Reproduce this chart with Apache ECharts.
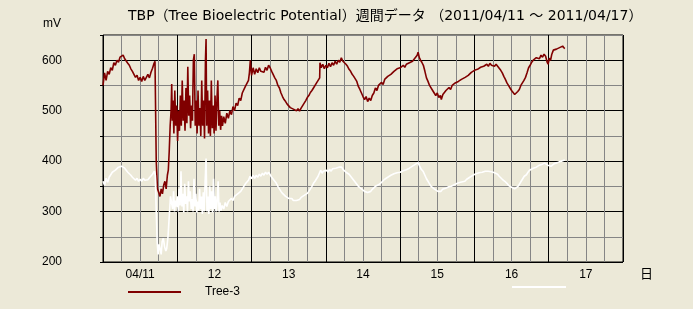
<!DOCTYPE html>
<html>
<head>
<meta charset="utf-8">
<script src="https://cdn.jsdelivr.net/npm/echarts@6/dist/echarts.min.js"></script>
<style>html,body{margin:0;padding:0;background:#ECE9D8;}#c{width:693px;height:309px;}</style>
</head>
<body>
<div id="c"></div>
<script>
// hours since 2011/04/11 00:00, mV
const tree3 = [
[0,550],[0.5,575],[1,560],[1.5,578],[2,572],[2.5,585],[3,580],[3.5,595],[4,590],[4.5,600],[5,596],[5.5,606],[6,604],[6.5,610],[7,603],[7.5,600],[8,594],[8.5,590],[9,583],[9.5,578],[10,572],[10.5,566],[11,570],[11.5,560],[12,566],[12.5,558],[13,568],[13.5,560],[14,566],[14.5,572],[15,565],[15.5,576],[16,584],[16.5,594],[16.8,598],[17.1,596],
[17.2,400],[17.6,345],[18,338],[18.4,330],[18.8,345],[19.2,335],[19.6,352],[20,360],[20.4,345],[20.8,372],[21.1,382],[21.4,420],[21.7,470],[22,500],[22.2,553],[22.4,480],
[22.6,520],[22.9,455],[23.2,540],[23.5,470],[23.8,510],[24.1,440],[24.4,500],[24.7,460],[25,530],[25.3,470],[25.6,560],[25.9,480],[26.2,520],[26.5,460],[26.8,545],[27.1,475],[27.4,587],[27.7,490],[28,530],[28.3,465],[28.6,510],[28.9,480],[29.2,600],[29.5,612],[29.8,470],[30.1,520],[30.4,455],[30.7,540],[31,470],[31.3,505],[31.6,450],[31.9,560],[32.2,470],[32.5,520],[32.8,445],[33.1,600],[33.3,642],[33.5,470],[33.8,540],[34.1,455],[34.4,520],[34.7,450],[35,560],[35.3,465],[35.6,510],[35.9,455],[36.2,530],[36.5,460],[36.8,520],[37.1,560],[37.4,470],[37.7,500],[38,462],[38.3,490],[38.6,470],
[39,488],[39.5,475],[40,495],[40.5,485],[41,500],[41.5,492],[42,508],[42.5,500],[43,515],[43.5,510],[44,525],[44.5,520],[45,535],[45.5,532],[46,548],[46.5,545],[47,560],[47.3,575],[47.6,600],[48,570],[48.5,585],[49,572],[49.5,583],[50,575],[50.5,585],[51,578],[51.5,580],[52,576],[52.5,586],[53,580],[53.5,590],[54,585],[54.5,578],[55,575],[55.5,565],[56,560],[56.5,550],[57,545],[57.5,535],[58,528],[58.5,522],[59,518],[59.5,513],[60,512],[60.5,506],[61,508],[61.5,503],[62,506],[62.5,500],[63,504],[63.5,499],[64,505],[64.5,508],[65,515],[65.5,520],[66,526],[66.5,530],[67,536],[67.5,540],[68,545],[68.5,548],[69,555],[69.5,560],[70,565],
[70.1,595],[70.5,585],[71,592],[71.5,583],[72,590],[72.5,585],[73,594],[73.5,587],[74,595],[74.5,590],[75,598],[75.5,592],[76,600],[76.5,596],[77,605],[77.5,598],[78,600],[78.5,592],[79,588],[79.5,582],[80,578],[80.5,572],[81,568],[81.5,563],[82,558],[82.5,548],[83,542],[83.5,535],[84,528],[84.5,522],[85,528],[85.5,518],[86,525],[86.5,520],[87,530],[87.5,535],[88,545],[88.5,540],[89,550],[89.5,548],[90,556],[90.5,552],[91,562],[91.5,560],[92,568],[92.5,565],[93,572],[93.5,570],[94,578],[94.5,575],[95,583],[95.5,580],[96,585],[96.5,582],[97,590],[97.5,586],[98,592],[98.5,590],[99,595],[99.5,593],[100,598],[100.5,602],[101,604],[101.5,610],[101.8,616],[102.2,605],[102.6,600],[103,596],[103.5,590],[104,578],[104.5,565],[105,558],[105.5,550],[106,552],[106.5,540],[107,538],[107.5,530],[108,535],[108.5,526],[109,530],[109.3,522],[109.8,532],[110.3,535],[110.8,540],[111.3,537],[111.8,546],[112.3,542],[112.8,550],[113.3,548],[113.8,555],[114.3,552],[114.8,558],[115.3,556],[115.8,562],[116.3,560],[117,566],[117.5,564],[118,570],[118.5,568],[119,576],[119.5,574],[120,580],[120.5,578],[121,582],[121.5,580],[122,586],[122.5,584],[123,588],[123.5,590],[124,592],[124.5,588],[125,594],[125.5,590],[126,592],[126.5,588],[127,592],[127.5,590],[128,584],[128.5,580],[129,575],[129.5,568],[130,562],[130.5,555],[131,550],[131.5,545],[132,540],[132.5,536],[133,532],[133.5,530],[134,538],[134.5,542],[135,550],[135.5,548],[136,560],[136.5,566],[137,575],[137.5,585],[138,590],[138.5,596],[139,600],[139.5,598],[140,605],[140.5,606],[141,603],[141.5,610],[142,606],[142.5,612],[143,608],[143.5,596],[143.8,592],[144.2,604],[144.6,600],[145,612],[145.5,620],[146,618],[146.5,622],[147,620],[147.5,625],[148,622],[148.5,628],[149,624],[149.2,623]
];
const tree2 = [
[0,360],[0.5,352],[1,366],[1.5,358],[2,368],[2.5,370],[3,378],[3.5,375],[4,382],[4.5,384],[5,388],[5.5,386],[6,390],[6.5,388],[7,386],[7.5,382],[8,378],[8.5,376],[9,372],[9.5,368],[10,365],[10.5,362],[11,366],[11.5,360],[12,364],[12.5,360],[13,366],[13.5,362],[14,365],[14.5,363],[15,367],[15.5,370],[16,374],[16.6,380],[16.9,372],
[17.2,300],[17.5,240],[17.8,215],[18.1,235],[18.4,227],[18.8,215],[19.1,240],[19.5,247],[19.9,230],[20.3,222],[20.6,227],[21,250],[21.4,290],[21.8,330],[22.2,333],[22.5,305],
[22.8,340],[23.1,300],[23.4,322],[23.7,310],[24,330],[24.3,300],[24.6,345],[24.9,312],[25.2,380],[25.5,310],[25.8,335],[26.1,298],[26.4,355],[26.7,315],[27,330],[27.3,300],[27.6,360],[27.9,320],[28.2,340],[28.5,305],[28.8,325],[29.1,300],[29.4,365],[29.7,310],[30,335],[30.3,298],[30.6,320],[30.9,302],[31.2,345],[31.5,305],[31.8,330],[32.1,295],[32.4,338],[32.7,300],[33,360],[33.3,405],[33.6,300],[33.9,330],[34.2,295],[34.5,350],[34.8,305],[35.1,340],[35.4,298],[35.7,365],[36,305],[36.3,330],[36.6,300],[36.9,322],[37.2,360],[37.5,300],[37.8,318],[38.1,302],
[38.5,312],[39,305],[39.5,318],[40,310],[40.5,320],[41,318],[41.5,326],[42,322],[42.5,330],[43,328],[43.5,335],[44,332],[44.5,340],[45,345],[45.5,350],[46,355],[46.5,358],[47,362],[47.5,370],[48,365],[48.5,372],[49,366],[49.5,372],[50,368],[50.5,374],[51,370],[51.5,376],[52,372],[52.5,378],[53,374],[53.5,378],[54,373],[54.5,368],[55,365],[55.5,360],[56,356],[56.5,350],[57,345],[57.5,340],[58,336],[58.5,333],[59,330],[59.5,328],[60,326],[60.5,324],[61,326],[61.5,322],[62,325],[62.5,322],[63,325],[63.5,324],[64,328],[64.5,330],[65,332],[65.5,335],[66,336],[66.5,340],[67,345],[67.5,350],[68,356],[68.5,360],[69,365],[69.5,370],[70,373],
[70.3,382],[70.8,376],[71.2,380],[71.7,378],[72.2,382],[72.7,378],[73.2,384],[73.7,380],[74.2,385],[74.7,382],[75.2,386],[75.7,384],[76.2,388],[76.7,385],[77.1,388],[77.6,383],[78,382],[78.5,378],[79,376],[79.5,374],[80,370],[80.5,366],[81,362],[81.5,358],[82,354],[82.5,350],[83,348],[83.5,345],[84,343],[84.5,340],[85,342],[85.5,338],[86,341],[86.5,340],[87,344],[87.5,346],[88,350],[88.5,350],[89,353],[89.5,354],[90,358],[90.5,360],[91,364],[91.5,366],[92,368],[92.5,370],[93,372],[93.5,373],[94,375],[94.5,376],[95,377],[95.5,376],[96,378],[96.5,380],[97,381],[97.5,382],[98,383],[98.5,383],[99,386],[99.5,388],[100,390],[100.5,392],[101,394],[101.8,397],[102.3,390],[102.8,384],[103.4,380],[104,372],[104.5,365],[105,360],[105.5,355],[106,350],[106.5,348],[107,345],[107.5,342],[108.2,340],[108.7,343],[109.2,340],[109.7,344],[110.2,345],[110.7,346],[111.2,347],[111.7,349],[112.5,350],[113,352],[113.5,353],[114,355],[114.5,356],[115,357],[115.5,358],[116,359],[116.9,360],[117.5,364],[118,366],[118.5,368],[119,370],[119.5,372],[120.1,373],[120.5,375],[121,376],[121.5,377],[122,378],[122.5,378],[123,379],[123.5,380],[124.4,380],[125,381],[125.5,379],[126,378],[126.5,377],[127.1,376],[127.5,374],[128,370],[128.5,367],[129,364],[129.8,360],[130.5,356],[131,352],[131.5,350],[132,348],[132.5,346],[133,345],[133.5,348],[134.1,350],[134.6,355],[135.1,360],[135.6,365],[136.1,370],[136.8,373],[137.3,378],[137.8,382],[138.3,384],[139,386],[139.5,386],[140,388],[140.5,390],[141,392],[141.5,393],[142,394],[142.7,396],[143.2,394],[143.7,392],[144.2,390],[144.8,390],[145.3,393],[145.8,395],[146.3,396],[146.8,397],[147.3,398],[148.1,400],[148.6,400],[149.2,402]
];
const dayLabels = ['04/11','12','13','14','15','16','17'];
const titleText = 'TBP（Tree Bioelectric Potential）週間データ （2011/04/11 ～ 2011/04/17）';
const seriesNames = ['Tree-3', ' '];

const chart = echarts.init(document.getElementById('c'), null, {renderer:'canvas'});
const font = '"Liberation Sans", "Noto Sans CJK JP", sans-serif';
const titleFont = '"DejaVu Sans", "Noto Sans CJK JP", sans-serif';
chart.setOption({
  animation: false,
  backgroundColor: '#ECE9D8',
  textStyle: {fontFamily: font, color: '#000'},
  title: {
    text: titleText, left: 128, top: 9, padding: 0,
    textStyle: {fontSize: 14, fontWeight: 'normal', color: '#000', fontFamily: titleFont}
  },
  graphic: [
    {type: 'text', left: 43, top: 18, style: {text: 'mV', font: '12px ' + font, fill: '#000'}},
    {type: 'text', left: 640, top: 267, style: {text: '日', font: '13px "Noto Sans CJK JP", sans-serif', fill: '#000'}}
  ],
  legend: [
    {data: [seriesNames[0]], left: 128, top: 286, padding: 0, icon: 'rect', itemWidth: 53, itemHeight: 2,
     textStyle: {fontSize: 12, color: '#000', fontFamily: font, padding: [0,0,0,19]}},
    {data: [seriesNames[1]], left: 512, top: 286, padding: 0, icon: 'rect', itemWidth: 54, itemHeight: 2,
     formatter: function(){ return ''; }}
  ],
  grid: {left: 103, right: 70, top: 35, bottom: 47, show: true, borderColor: '#000', borderWidth: 1, backgroundColor: 'transparent'},
  xAxis: {
    type: 'value', min: 0, max: 168, interval: 6,
    axisLine: {show: false}, axisTick: {show: false},
    axisLabel: {
      margin: 7, fontSize: 12, color: '#000', fontFamily: font, showMinLabel: true, showMaxLabel: true,
      formatter: function(v){ return (v % 24 === 12) ? dayLabels[Math.floor(v/24)] : ''; }
    },
    splitLine: {show: true, lineStyle: {color: ['#000','#858585','#858585','#858585'], width: 1}}
  },
  yAxis: {
    type: 'value', min: 200, max: 650, interval: 50,
    axisLine: {show: false},
    axisTick: {show: true, length: 3, lineStyle: {color: '#000'}},
    axisLabel: {
      margin: 41, fontSize: 12, color: '#000', fontFamily: font,
      formatter: function(v){ return (v % 100 === 0) ? String(v) : ''; }
    },
    splitLine: {show: true, lineStyle: {color: ['#000','#858585'], width: 1}}
  },
  series: [
    {name: seriesNames[0], type: 'line', data: tree3, showSymbol: false, symbol: 'none',
     lineStyle: {color: '#800000', width: 1.6}, itemStyle: {color: '#800000'}},
    {name: seriesNames[1], type: 'line', data: tree2, showSymbol: false, symbol: 'none',
     lineStyle: {color: '#ffffff', width: 1.6}, itemStyle: {color: '#ffffff'}}
  ]
});
</script>
</body>
</html>
